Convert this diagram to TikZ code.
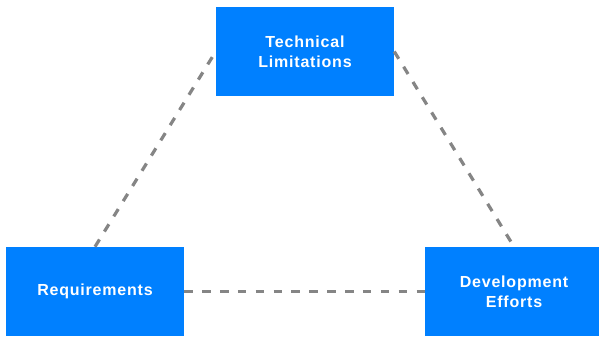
\documentclass[tikz,border=0pt]{standalone}
\usepackage{fontspec}
\setmainfont{Liberation Sans}
\begin{document}
\begin{tikzpicture}[x=0.75pt,y=0.75pt,
  box/.style={fill=boxblue, draw=none, minimum width=133.5pt, minimum height=66.75pt,
    inner sep=0pt, text=white, align=center,
    font=\addfontfeatures{LetterSpace=5}\fontsize{12}{15}\selectfont\bfseries},
  link/.style={draw=linkgray, line width=2.4pt, dash pattern=on 6.4pt off 7pt}]
\definecolor{boxblue}{HTML}{0080FF}
\definecolor{linkgray}{HTML}{858585}
\useasboundingbox (0,0) rectangle (599,336);
\clip (0,0) rectangle (599,336);
\node[box] (top) at (305,284.5) {Technical\\Limitations};
\node[box] (left) at (95,44.5) {Requirements};
\node[box] (right) at (514,44.5) {Development\\Efforts};
\draw[link] (left.north) -- (top.west);
\draw[link] (top.east) -- (right.north);
\draw[link] (left.east) -- (right.west);
\end{tikzpicture}
\end{document}
